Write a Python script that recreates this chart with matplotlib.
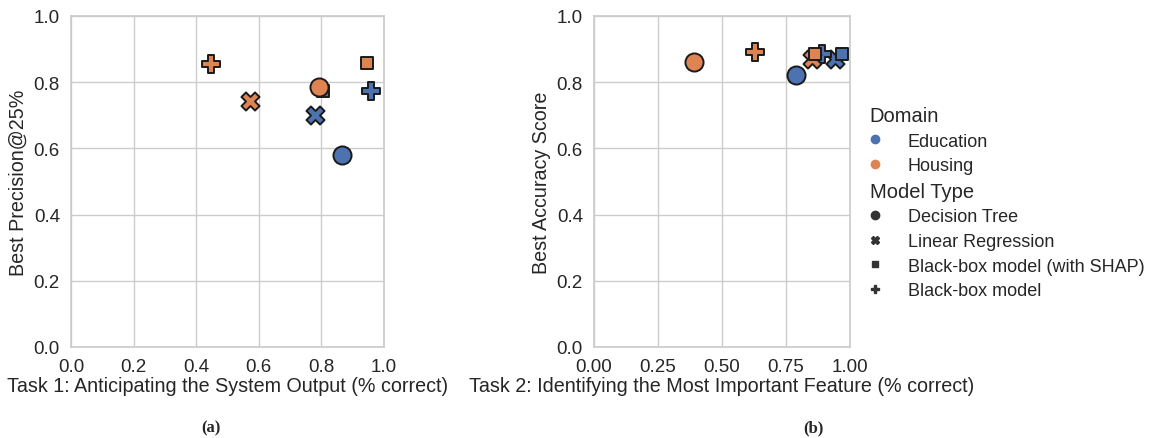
import matplotlib.pyplot as plt
import seaborn as sns
from matplotlib.lines import Line2D

sns.set_theme(style="whitegrid")
plt.rcParams['font.family'] = ['Liberation Sans', 'DejaVu Sans']

domains = ["Education", "Housing"]
model_types = ["Decision Tree", "Linear Regression", "Black-box model (with SHAP)", "Black-box model"]
markers = ["o", "X", (4, 0, 45), "P"]
colors = ["#4C72B0", "#DD8452"]

# one row per (domain, model type)
pt_domain = ["Education"] * 4 + ["Housing"] * 4
pt_model = model_types * 2

task1_x = [0.866, 0.780, 0.805, 0.958, 0.792, 0.572, 0.946, 0.447]
task1_y = [0.580, 0.700, 0.773, 0.773, 0.785, 0.743, 0.857, 0.855]

task2_x = [0.789, 0.941, 0.969, 0.890, 0.390, 0.852, 0.863, 0.629]
task2_y = [0.822, 0.870, 0.885, 0.885, 0.861, 0.870, 0.885, 0.891]

fig = plt.figure(figsize=(11.49, 4.39), dpi=100)
ax1 = fig.add_axes([0.0618, 0.2073, 0.2724, 0.754])
ax2 = fig.add_axes([0.517, 0.2073, 0.2228, 0.754])

def draw(ax, xs, ys):
    for d, m, x, y in zip(pt_domain, pt_model, xs, ys):
        ax.scatter(x, y, s=170, marker=markers[model_types.index(m)],
                   color=colors[domains.index(d)], edgecolor="#1a1a1a",
                   linewidth=1.4, zorder=3)
    ax.set_xlim(0, 1)
    ax.set_ylim(0, 1)
    ax.tick_params(labelsize=13.5, pad=2, colors="#262626")
    for s in ax.spines.values():
        s.set_color("#cccccc")

draw(ax1, task1_x, task1_y)
ax1.set_xticks([0, 0.2, 0.4, 0.6, 0.8, 1.0])
ax1.set_xlabel("Task 1: Anticipating the System Output (% correct)", fontsize=14.2, labelpad=1)
ax1.set_ylabel("Best Precision@25%", fontsize=14.2)

draw(ax2, task2_x, task2_y)
ax2.set_xticks([0, 0.25, 0.5, 0.75, 1.0])
ax2.set_xticklabels(["0.00", "0.25", "0.50", "0.75", "1.00"])
ax2.set_xlabel("Task 2: Identifying the Most Important Feature (% correct)", fontsize=14.2, labelpad=1)
ax2.set_ylabel("Best Accuracy Score", fontsize=14.2)

blank = Line2D([], [], linestyle="none", marker=None)
handles = [blank]
labels = ["Domain"]
for d, c in zip(domains, colors):
    handles.append(Line2D([], [], linestyle="none", marker="o", color=c, markersize=6))
    labels.append(d)
handles.append(blank)
labels.append("Model Type")
for m, mk in zip(model_types, markers):
    handles.append(Line2D([], [], linestyle="none", marker=mk, color="#333333", markersize=6))
    labels.append(m)

leg = fig.legend(handles, labels, loc="upper left", bbox_to_anchor=(868 / 1149, 1 - 107 / 439),
                 frameon=False, fontsize=13, handlelength=0.8, handletextpad=1.4,
                 labelspacing=0.42, borderpad=0, borderaxespad=0)
for t in leg.get_texts():
    t.set_color("#262626")
    if t.get_text() in ("Domain", "Model Type"):
        t.set_fontsize(14.5)
        t.set_position((-38, 0))

fig.text(211 / 1149, 1 - 428 / 439, "(a)", family="Liberation Serif", weight="bold",
         fontsize=12, ha="center", va="center")
fig.text(813 / 1149, 1 - 428 / 439, "(b)", family="Liberation Serif", weight="bold",
         fontsize=12, ha="center", va="center")

fig.savefig("out.png", dpi=100)
